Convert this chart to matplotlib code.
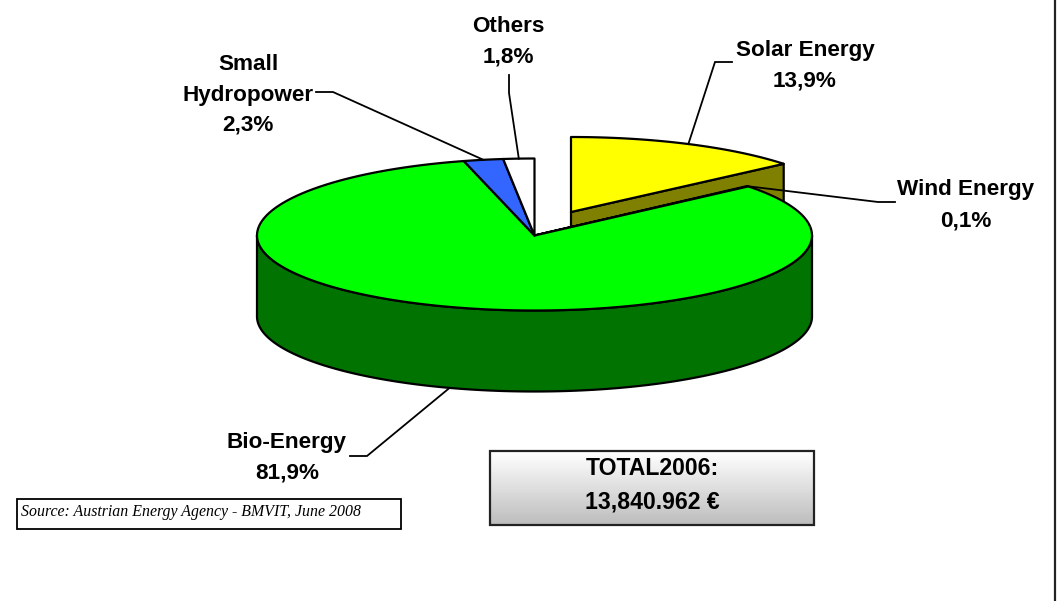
import numpy as np
import matplotlib
matplotlib.use("Agg")
import matplotlib.pyplot as plt
from matplotlib.patches import Polygon, Rectangle

# --- data ---
labels = ["Solar Energy", "Wind Energy", "Bio-Energy", "Small\nHydropower", "Others"]
values = [13.9, 0.1, 81.9, 2.3, 1.8]
value_text = ["13,9%", "0,1%", "81,9%", "2,3%", "1,8%"]
colors = ["#FFFF00", "#808000", "#00FF00", "#3366FF", "#FFFFFF"]
side_colors = ["#808000", "#808000", "#007300", "#1F3D99", "#999999"]
total_lines = ["TOTAL2006:", "13,840.962 €"]
source_text = "Source: Austrian Energy Agency - BMVIT, June 2008"

# --- layout (pixel space of the figure) ---
W, H = 1057, 601
CX, CY, RX, RY_FRONT, RY_BACK, DEPTH = 534.5, 235.5, 277.5, 75.0, 77.0, 81.0
SOLAR_RY = 75.0
EXPLODE = {0: (36.5, -23.5)}
LW = 1.6

fig = plt.figure(figsize=(W / 100, H / 100), dpi=100, facecolor="white")
ax = fig.add_axes([0, 0, 1, 1])
ax.set_xlim(0, W)
ax.set_ylim(H, 0)
ax.axis("off")
plt.rcParams["font.family"] = "Liberation Sans"

edges = np.concatenate([[0], np.cumsum(values)]) / np.sum(values) * 2 * np.pi


def rim(theta, dx=0.0, dy=0.0, drop=0.0, ry_back=RY_BACK):
    c = np.cos(theta)
    ry = np.where(c > 0, ry_back, RY_FRONT)
    return CX + dx + RX * np.sin(theta), CY + dy + drop - ry * c


def arc(t0, t1, **kw):
    t = np.linspace(t0, t1, max(3, int((t1 - t0) * 120)))
    return np.column_stack(rim(t, **kw))


def poly(pts, fc, z):
    ax.add_patch(Polygon(pts, closed=True, fc=fc, ec="black", lw=LW,
                         joinstyle="round", zorder=z))


# exploded Solar slice: cut face then top
dx, dy = EXPLODE[0]
t0, t1 = edges[0], edges[1]
apex = (CX + dx, CY + dy)
end = rim(t1, dx=dx, dy=dy, ry_back=SOLAR_RY)
poly([apex, end, (end[0], end[1] + DEPTH), (apex[0], apex[1] + DEPTH)], side_colors[0], 2)
poly(np.vstack([[apex], arc(t0, t1, dx=dx, dy=dy, ry_back=SOLAR_RY)]), colors[0], 3)

# Bio-Energy outer wall (front half only is visible)
t0, t1 = edges[2], edges[3]
a, b = max(t0, np.pi / 2), min(t1, 3 * np.pi / 2)
poly(np.vstack([arc(a, b), arc(a, b, drop=DEPTH)[::-1]]), side_colors[2], 4)

# tops of the slices that stay in place
for i in (1, 2, 3, 4):
    poly(np.vstack([[(CX, CY)], arc(edges[i], edges[i + 1])]), colors[i], 5)

# leader lines: start on the slice rim, run to a text elbow
mids = (edges[:-1] + edges[1:]) / 2
anchors = [
    rim(mids[0], dx=dx, dy=dy, ry_back=SOLAR_RY),
    rim(mids[1]),
    rim(mids[2], drop=DEPTH),
    rim(mids[3]),
    rim(mids[4]),
]
elbows = [[(715, 62), (732, 62)], [(878, 202), (895, 202)], [(367, 456), (350, 456)],
          [(333, 92), (316, 92)], [(509, 93), (509, 75)]]
for anc, elb in zip(anchors, elbows):
    pts = [anc] + elb
    ax.plot(*zip(*pts), color="black", lw=1.3, zorder=6, solid_joinstyle="miter")

# slice labels
text_pos = [(805, 48, 31), (966, 187, 31), (287, 440, 31), (248, 62, 30.5), (508, 24, 30)]
FS = 16.2
for lab, val, (x, y, step) in zip(labels, value_text, text_pos):
    for k, line in enumerate(lab.split("\n") + [val]):
        ax.text(x, y + k * step, line, ha="center", va="center_baseline", fontsize=FS,
                fontweight="bold", color="black", family="Liberation Sans", zorder=7)

# total box with a vertical grey gradient
grad = np.linspace(1.0, 0.74, 64).reshape(-1, 1)
ax.imshow(grad, cmap="gray", vmin=0, vmax=1, extent=(490, 814, 525, 451),
          aspect="auto", zorder=1, interpolation="bilinear")
ax.set_xlim(0, W)
ax.set_ylim(H, 0)
ax.add_patch(Rectangle((490, 451), 324, 74, fc="none", ec="#222222", lw=1.6, zorder=2))
for line, y in zip(total_lines, (466, 500)):
    ax.text(652, y, line, ha="center", va="center_baseline", fontsize=16.6,
            fontweight="bold", color="black", family="Liberation Sans", zorder=7)

# source box
ax.add_patch(Rectangle((17, 499), 384, 30, fc="white", ec="black", lw=1.3, zorder=2))
ax.text(21, 510.5, source_text, ha="left", va="center_baseline", fontsize=11.4,
        style="italic", color="black", family="Liberation Serif", zorder=7)

# right frame line
ax.plot([1055, 1055], [0, H], color="#222222", lw=1.6, zorder=8)

fig.savefig("out.png", dpi=100, facecolor="white")
